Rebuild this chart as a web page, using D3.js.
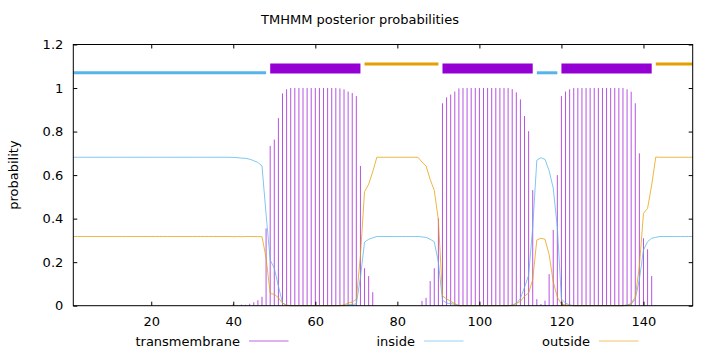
<!DOCTYPE html>
<html>
<head>
<meta charset="utf-8">
<script src="https://cdn.jsdelivr.net/npm/d3@7"></script>
<style>
body { margin: 0; background: #fff; }
text { font-family: "DejaVu Sans", sans-serif; font-size: 13px; fill: #000; }
</style>
</head>
<body>
<div id="chart"></div>
<script>
const width = 720;
const height = 352;

// posterior probabilities per residue (1..152)
const transmembrane = [
  0,0,0,0,0,0,0,0,0,0,
  0,0,0,0,0,0,0,0,0,0,
  0,0,0,0,0,0,0,0,0,0,
  0,0,0,0,0,0,0,0,0,0.008,
  0.002,0.005,0.004,0.009,0.016,0.025,0.041,0.355,0.734,0.763,
  0.862,0.975,0.994,1,1,1,1,1,1,1,
  1,1,1,1,1,0.998,0.994,0.984,0.977,0.963,
  0.642,0.172,0.136,0.062,0,0,0,0,0,0,
  0,0,0,0,0,0.022,0.036,0.113,0.172,0.401,
  0.930,0.957,0.970,0.984,0.998,1,1,1,1,1,
  1,1,1,1,1,1,1,0.995,0.980,0.948,
  0.871,0.802,0.531,0.030,0.008,0.023,0.145,0.348,0.600,0.963,
  0.984,0.994,1,1,1,1,1,1,1,1,
  1,1,1,1,1,0.994,0.983,0.930,0.700,0.310,
  0.259,0.136,0.003,0,0,0,0,0,0,0,
  0,0
];

const inside = [
  0.682,0.682,0.682,0.682,0.682,0.682,0.682,0.682,0.682,0.682,
  0.682,0.682,0.682,0.682,0.682,0.682,0.682,0.682,0.682,0.682,
  0.682,0.682,0.682,0.682,0.682,0.682,0.682,0.682,0.682,0.682,
  0.682,0.682,0.682,0.682,0.682,0.682,0.682,0.682,0.682,0.681,
  0.680,0.678,0.677,0.673,0.666,0.658,0.642,0.420,0.210,0.172,
  0.090,0.012,0.002,0,0,0,0,0,0,0,
  0,0,0,0,0,0,0.002,0.004,0.006,0.008,
  0.130,0.292,0.305,0.312,0.318,0.318,0.318,0.318,0.318,0.318,
  0.318,0.318,0.318,0.318,0.318,0.316,0.314,0.305,0.294,0.200,
  0.025,0.012,0.010,0.006,0,0,0,0,0,0,
  0,0,0,0,0,0,0,0.003,0.010,0.033,
  0.085,0.140,0.360,0.668,0.680,0.672,0.620,0.540,0.360,0.030,
  0.012,0.004,0,0,0,0,0,0,0,0,
  0,0,0,0,0,0.004,0.007,0.030,0.120,0.256,
  0.294,0.310,0.314,0.318,0.318,0.318,0.318,0.318,0.318,0.318,
  0.318,0.318
];

const outside = [
  0.318,0.318,0.318,0.318,0.318,0.318,0.318,0.318,0.318,0.318,
  0.318,0.318,0.318,0.318,0.318,0.318,0.318,0.318,0.318,0.318,
  0.318,0.318,0.318,0.318,0.318,0.318,0.318,0.318,0.318,0.318,
  0.318,0.318,0.318,0.318,0.318,0.318,0.318,0.318,0.318,0.317,
  0.318,0.317,0.318,0.318,0.318,0.317,0.317,0.220,0.056,0.052,
  0.037,0.011,0.003,0,0,0,0,0,0,0,
  0,0,0,0,0,0,0.004,0.012,0.017,0.029,
  0.230,0.524,0.558,0.615,0.682,0.682,0.682,0.682,0.682,0.682,
  0.682,0.682,0.682,0.682,0.682,0.660,0.642,0.580,0.530,0.394,
  0.045,0.031,0.020,0.010,0,0,0,0,0,0,
  0,0,0,0,0,0,0,0.002,0.010,0.020,
  0.044,0.058,0.120,0.302,0.310,0.305,0.235,0.110,0.040,0.007,
  0.004,0.002,0,0,0,0,0,0,0,0,
  0,0,0,0,0,0.002,0.010,0.040,0.180,0.424,
  0.447,0.554,0.683,0.682,0.682,0.682,0.682,0.682,0.682,0.682,
  0.682,0.682
];

// predicted topology drawn above the curves
const segStart = [1, 49, 72, 91, 114, 120, 143];
const segEnd   = [48, 71, 90, 113, 119, 142, 152];
const segType  = ["inside", "transmembrane", "outside", "transmembrane", "inside", "transmembrane", "outside"];

const xTicks = [20, 40, 60, 80, 100, 120, 140];
const yTicks = [0, 0.2, 0.4, 0.6, 0.8, 1, 1.2];
const legendLabels = ["transmembrane", "inside", "outside"];

const colors = { transmembrane: "#9400d3", inside: "#56b4e9", outside: "#e69f00" };
const segLevel = { inside: 1.07, transmembrane: 1.09, outside: 1.11 };
const segWidth = { inside: 3, transmembrane: 10, outside: 3 };

const residues = transmembrane.map((d, i) => i + 1);

const x = d3.scaleLinear().domain([1, 152]).range([73.3, 692.7]);
const y = d3.scaleLinear().domain([0, 1.2]).range([305.7, 44.5]);

const svg = d3.select("#chart")
  .append("svg")
  .attr("width", width)
  .attr("height", height);

// title + y label
svg.append("text")
  .attr("x", 360).attr("y", 24)
  .attr("text-anchor", "middle")
  .text("TMHMM posterior probabilities");

svg.append("text")
  .attr("transform", `translate(18, ${(y(0) + y(1.2)) / 2}) rotate(-90)`)
  .attr("text-anchor", "middle")
  .text("probability");

// impulses for transmembrane
svg.append("g")
  .selectAll("line")
  .data(residues.filter(r => transmembrane[r - 1] > 0))
  .join("line")
    .attr("x1", r => x(r))
    .attr("x2", r => x(r))
    .attr("y1", y(0))
    .attr("y2", r => y(transmembrane[r - 1]))
    .style("stroke", colors.transmembrane)
    .style("stroke-opacity", 0.68)
    .style("stroke-width", 1);

const line = d3.line().x(d => x(d[0])).y(d => y(d[1]));

[["inside", inside], ["outside", outside]].forEach(([key, vals]) => {
  svg.append("path")
    .datum(residues.map(r => [r, vals[r - 1]]))
    .attr("d", line)
    .style("fill", "none")
    .style("stroke", colors[key])
    .style("stroke-opacity", 0.75)
    .style("stroke-width", 1);
});

// topology bars
svg.append("g")
  .selectAll("line")
  .data(segType.map((t, i) => ({ type: t, start: segStart[i], end: segEnd[i] })))
  .join("line")
    .attr("x1", d => x(d.start))
    .attr("x2", d => x(d.end))
    .attr("y1", d => y(segLevel[d.type]))
    .attr("y2", d => y(segLevel[d.type]))
    .style("stroke", d => colors[d.type])
    .style("stroke-width", d => segWidth[d.type]);

// axes, ticks mirrored on all sides
const xAxisB = d3.axisBottom(x).tickValues(xTicks).tickSize(-4).tickPadding(11);
const xAxisT = d3.axisTop(x).tickValues(xTicks).tickSize(-4).tickFormat("");
const yAxisL = d3.axisLeft(y).tickValues(yTicks).tickSize(-4).tickPadding(10).tickFormat(d => String(d));
const yAxisR = d3.axisRight(y).tickValues(yTicks).tickSize(-4).tickFormat("");

svg.append("g").attr("transform", `translate(0,${y(0)})`).call(xAxisB);
svg.append("g").attr("transform", `translate(0,${y(1.2)})`).call(xAxisT);
svg.append("g").attr("transform", `translate(${x(1)},0)`).call(yAxisL);
svg.append("g").attr("transform", `translate(${x(152)},0)`).call(yAxisR);

svg.selectAll(".domain").remove();
svg.selectAll(".tick line").style("stroke", "#000");
svg.selectAll(".tick text")
  .style("font-family", "DejaVu Sans, sans-serif")
  .style("font-size", "13px");

svg.append("rect")
  .attr("x", x(1)).attr("y", y(1.2))
  .attr("width", x(152) - x(1)).attr("height", y(0) - y(1.2))
  .style("fill", "none")
  .style("stroke", "#000")
  .style("stroke-width", 1);

// legend along the bottom
const legend = svg.append("g")
  .selectAll("g")
  .data(legendLabels)
  .join("g")
    .attr("transform", (d, i) => `translate(${249 + i * 175}, 341)`);

legend.append("line")
  .attr("x1", 0).attr("x2", 39.5)
  .style("stroke", d => colors[d])
  .style("stroke-opacity", 0.6)
  .style("stroke-width", 1);

legend.append("text")
  .attr("x", -9)
  .attr("dy", "0.35em")
  .attr("text-anchor", "end")
  .text(d => d);
</script>
</body>
</html>
